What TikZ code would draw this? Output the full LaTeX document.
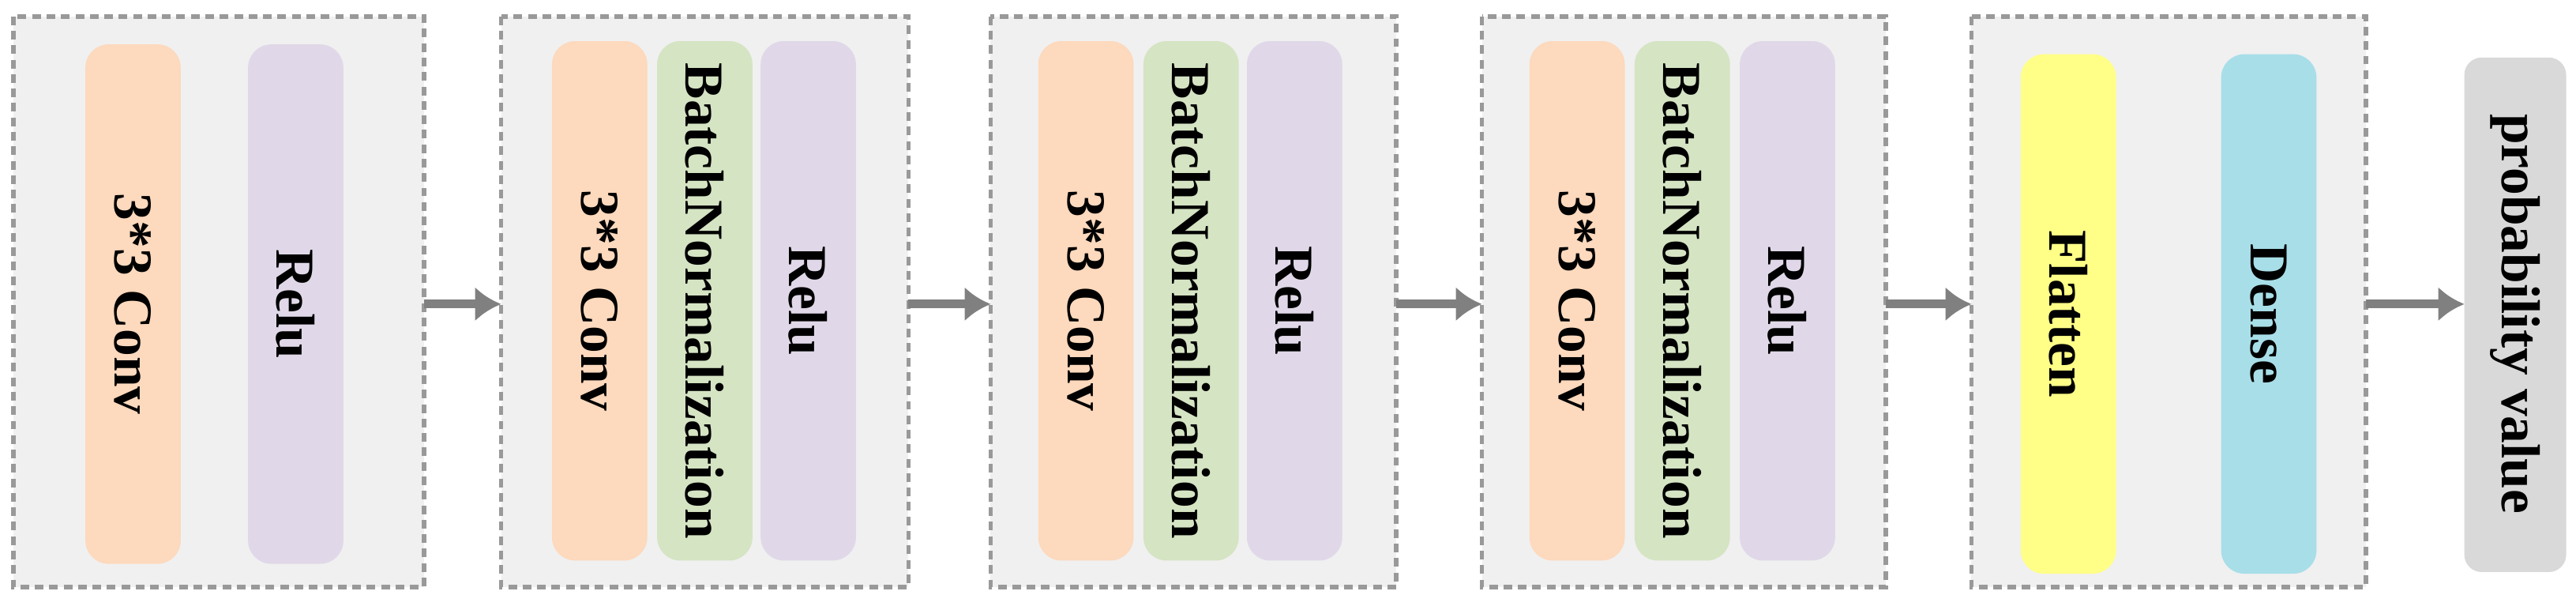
\documentclass[tikz,border=0pt]{standalone}
\usepackage{fontspec}
\setmainfont{Liberation Serif}
\definecolor{cconv}{HTML}{FDD9BD}
\definecolor{crelu}{HTML}{E0D8E8}
\definecolor{cbn}{HTML}{D5E4C3}
\definecolor{cflat}{HTML}{FFFF88}
\definecolor{cdense}{HTML}{A8DEE8}
\definecolor{cprob}{HTML}{D9D9D9}
\begin{document}
\begin{tikzpicture}[x=0.02cm,y=-0.02cm,
 grp/.style={draw=gray!80,line width=1.6pt,dash pattern=on 3pt off 2pt,fill=gray!12},
 blk/.style={rounded corners=8pt},
 txt/.style={font=\fontsize{19}{19}\selectfont\bfseries,rotate=-90},
 arr/.style={draw=gray,line width=3pt,-{Latex[length=9pt,width=12pt]}}]
\usetikzlibrary{arrows.meta}
\useasboundingbox (0,0) rectangle (1568,371);
\def\grp#1#2#3{\draw[grp] (#2,10) rectangle (#3,357); \coordinate (#1l) at (#2,185); \coordinate (#1r) at (#3,185);}
\def\blk#1#2#3#4#5{\fill[blk,#4] (#2,#3) rectangle ++(58,316); \node[txt] (#1) at (#2+29,#3+158) {#5};}
\grp{g1}{8}{258}\grp{g2}{305}{553}\grp{g3}{603}{850}\grp{g4}{902}{1148}\grp{g5}{1200}{1440}
\blk{c1}{52}{27}{cconv}{3*3 Conv}
\blk{r1}{151}{27}{crelu}{Relu}
\blk{c2}{336}{25}{cconv}{3*3 Conv}
\blk{b2}{400}{25}{cbn}{BatchNormalization}
\blk{r2}{463}{25}{crelu}{Relu}
\blk{c3}{632}{25}{cconv}{3*3 Conv}
\blk{b3}{696}{25}{cbn}{BatchNormalization}
\blk{r3}{759}{25}{crelu}{Relu}
\blk{c4}{931}{25}{cconv}{3*3 Conv}
\blk{b4}{995}{25}{cbn}{BatchNormalization}
\blk{r4}{1059}{25}{crelu}{Relu}
\blk{f5}{1230}{33}{cflat}{Flatten}
\blk{d5}{1352}{33}{cdense}{Dense}
\fill[rounded corners=6pt,cprob] (1500,35) rectangle (1562,348);
\node[txt] (p) at (1531,191) {probability value};
\coordinate (pl) at (1500,185);
\draw[arr] (g1r) -- (g2l); \draw[arr] (g2r) -- (g3l); \draw[arr] (g3r) -- (g4l);
\draw[arr] (g4r) -- (g5l); \draw[arr] (g5r) -- (pl);
\end{tikzpicture}
\end{document}
